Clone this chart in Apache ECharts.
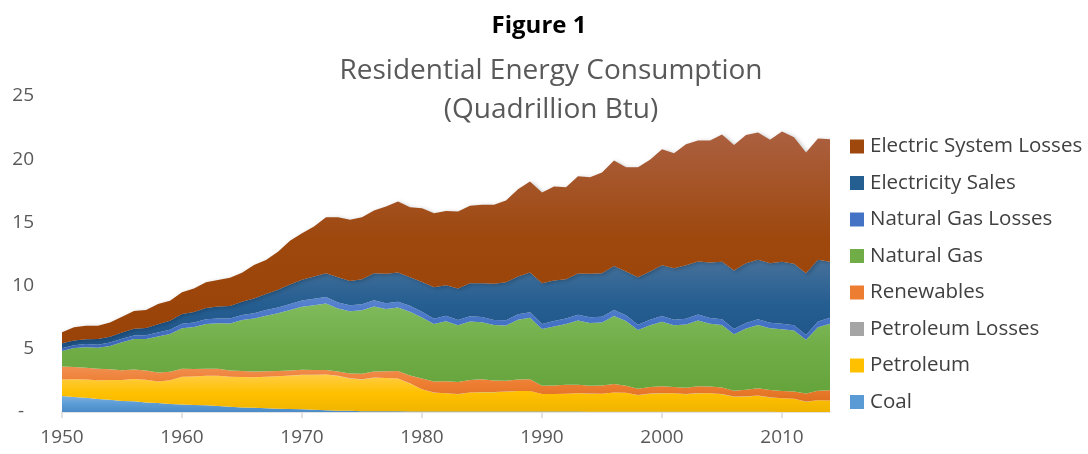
<!DOCTYPE html>
<html>
<head>
<meta charset="utf-8">
<title>Residential Energy Consumption</title>
<script src="https://cdn.jsdelivr.net/npm/echarts@6/dist/echarts.min.js"></script>
<style>
  html, body { margin: 0; padding: 0; background: #fff; }
  #chart { width: 1088px; height: 454px; }
</style>
</head>
<body>
<div id="chart"></div>
<script>
// years 1950..2014
const years = []
for (let y = 1950; y <= 2014; y++) years.push(String(y))

// quadrillion Btu
const coal = [1.26, 1.19, 1.12, 1.02, 0.96, 0.87, 0.85, 0.75, 0.72, 0.64,
  0.59, 0.56, 0.53, 0.47, 0.41, 0.35, 0.33, 0.29, 0.26, 0.24,
  0.21, 0.17, 0.14, 0.10, 0.09, 0.06, 0.06, 0.06, 0.05, 0.04,
  0.03, 0.03, 0.03, 0.03, 0.04, 0.04, 0.04, 0.04, 0.04, 0.03,
  0.03, 0.03, 0.03, 0.03, 0.02, 0.02, 0.02, 0.02, 0.01, 0.01,
  0.01, 0.01, 0.01, 0.01, 0.01, 0.01, 0.01, 0.01, 0.01, 0.01,
  0, 0, 0, 0, 0]
const petroleum = [1.32, 1.40, 1.45, 1.50, 1.57, 1.66, 1.76, 1.80, 1.70, 1.88,
  2.20, 2.25, 2.33, 2.40, 2.37, 2.42, 2.42, 2.50, 2.56, 2.64,
  2.72, 2.76, 2.82, 2.75, 2.57, 2.52, 2.65, 2.62, 2.60, 2.22,
  1.76, 1.50, 1.45, 1.38, 1.50, 1.53, 1.53, 1.57, 1.62, 1.63,
  1.39, 1.39, 1.41, 1.45, 1.43, 1.42, 1.52, 1.50, 1.32, 1.44,
  1.48, 1.47, 1.40, 1.48, 1.47, 1.40, 1.20, 1.22, 1.28, 1.14,
  1.08, 1.04, 0.82, 0.92, 0.90]
const petroleumLosses = [0, 0, 0, 0, 0, 0, 0, 0, 0, 0,
  0, 0, 0, 0, 0, 0, 0, 0, 0, 0,
  0.01, 0.01, 0.01, 0.01, 0.01, 0.01, 0.01, 0.01, 0.01, 0.01,
  0.01, 0.01, 0.01, 0.01, 0.01, 0.01, 0.01, 0.01, 0.01, 0.01,
  0.01, 0.01, 0.01, 0.01, 0.01, 0.01, 0.01, 0.01, 0.01, 0.01,
  0.01, 0.01, 0.01, 0.01, 0.01, 0.01, 0.01, 0.01, 0.01, 0.01,
  0.01, 0.01, 0.01, 0.01, 0.01]
const renewables = [1.01, 0.98, 0.94, 0.90, 0.85, 0.78, 0.76, 0.73, 0.70, 0.66,
  0.63, 0.60, 0.57, 0.55, 0.51, 0.47, 0.45, 0.43, 0.42, 0.41,
  0.40, 0.38, 0.36, 0.35, 0.37, 0.43, 0.48, 0.54, 0.58, 0.62,
  0.85, 0.87, 0.94, 0.96, 0.98, 1.01, 0.92, 0.85, 0.91, 0.93,
  0.64, 0.67, 0.71, 0.66, 0.61, 0.65, 0.66, 0.55, 0.50, 0.52,
  0.54, 0.48, 0.50, 0.53, 0.52, 0.52, 0.46, 0.52, 0.58, 0.59,
  0.58, 0.58, 0.64, 0.76, 0.82]
const naturalGas = [1.24, 1.49, 1.62, 1.66, 1.85, 2.20, 2.40, 2.50, 2.85, 3.00,
  3.21, 3.32, 3.53, 3.60, 3.71, 4.03, 4.20, 4.40, 4.57, 4.78,
  4.99, 5.13, 5.26, 4.98, 4.93, 5.02, 5.15, 4.91, 5.02, 5.05,
  4.83, 4.55, 4.75, 4.48, 4.62, 4.51, 4.38, 4.38, 4.72, 4.85,
  4.49, 4.67, 4.80, 5.09, 4.98, 4.98, 5.38, 5.11, 4.65, 4.88,
  5.10, 4.89, 5.00, 5.21, 4.98, 4.95, 4.48, 4.84, 5.01, 4.88,
  4.88, 4.81, 4.24, 5.02, 5.25]
const naturalGasLosses = [0.22, 0.23, 0.24, 0.24, 0.26, 0.28, 0.29, 0.30, 0.32, 0.33,
  0.35, 0.36, 0.38, 0.38, 0.39, 0.41, 0.42, 0.44, 0.45, 0.47,
  0.49, 0.50, 0.51, 0.48, 0.47, 0.48, 0.49, 0.46, 0.47, 0.47,
  0.45, 0.42, 0.44, 0.41, 0.42, 0.41, 0.40, 0.40, 0.43, 0.44,
  0.41, 0.42, 0.43, 0.46, 0.45, 0.45, 0.48, 0.46, 0.42, 0.44,
  0.46, 0.44, 0.45, 0.47, 0.45, 0.45, 0.41, 0.44, 0.45, 0.44,
  0.44, 0.43, 0.39, 0.45, 0.47]
const electricitySales = [0.38, 0.36, 0.38, 0.46, 0.47, 0.50, 0.52, 0.57, 0.65, 0.70,
  0.77, 0.82, 0.88, 0.94, 1.00, 1.05, 1.15, 1.28, 1.42, 1.55,
  1.65, 1.77, 1.88, 1.99, 1.93, 1.99, 2.14, 2.33, 2.30, 2.25,
  2.35, 2.49, 2.40, 2.50, 2.62, 2.68, 2.86, 3.02, 2.99, 3.14,
  3.22, 3.21, 3.12, 3.25, 3.43, 3.45, 3.49, 3.46, 3.75, 3.81,
  4.01, 4.08, 4.24, 4.19, 4.38, 4.54, 4.62, 4.73, 4.70, 4.70,
  4.89, 4.85, 4.88, 4.88, 4.43]
const electricLosses = [0.87, 1.05, 1.08, 1.05, 1.13, 1.25, 1.41, 1.42, 1.60, 1.60,
  1.72, 1.87, 2.04, 2.10, 2.24, 2.29, 2.66, 2.69, 3.00, 3.46,
  3.67, 3.95, 4.43, 4.75, 4.83, 4.90, 4.96, 5.32, 5.62, 5.54,
  5.84, 5.86, 5.89, 6.09, 6.12, 6.20, 6.25, 6.46, 6.91, 7.20,
  7.17, 7.44, 7.28, 7.71, 7.65, 7.96, 8.33, 8.26, 8.71, 8.84,
  9.18, 9.09, 9.58, 9.58, 9.66, 10.07, 9.94, 10.15, 10.07, 9.76,
  10.31, 10.02, 9.55, 9.60, 9.70]

const yTicks = [0, 5, 10, 15, 20, 25]

const fontFamily = '"Open Sans", "Noto Sans", sans-serif'

// light top -> base colour -> a bit darker at the bottom, like the Excel fill
const grad = (top, mid, bottom) => new echarts.graphic.LinearGradient(0, 0, 0, 1, [
  { offset: 0, color: top },
  { offset: 0.5, color: mid },
  { offset: 1, color: bottom }
])

const makeSeries = (name, data, base, top, bottom, extra) => Object.assign({
  name: name,
  type: 'line',
  stack: 'total',
  data: data,
  symbol: 'none',
  color: base,
  lineStyle: { width: 0 },
  areaStyle: { color: grad(top, base, bottom), opacity: 1 },
  emphasis: { disabled: true }
}, extra || {})

const chart = echarts.init(document.getElementById('chart'))

chart.setOption({
  animation: false,
  backgroundColor: '#ffffff',
  textStyle: { fontFamily: fontFamily },
  title: [
    {
      text: 'Figure 1',
      left: 534,
      top: 9,
      textAlign: 'center',
      textStyle: { fontFamily: fontFamily, fontSize: 24, fontWeight: 'bold', color: '#000000' }
    },
    {
      text: 'Residential Energy Consumption\n(Quadrillion Btu)',
      left: 546,
      top: 47,
      textAlign: 'center',
      textStyle: { fontFamily: fontFamily, fontSize: 28, fontWeight: 'normal', color: '#595959', lineHeight: 39 }
    }
  ],
  legend: {
    orient: 'vertical',
    left: 845,
    top: 131,
    itemWidth: 14,
    itemHeight: 14,
    itemGap: 15.5,
    icon: 'rect',
    textStyle: { fontFamily: fontFamily, fontSize: 20.5, color: '#404040', padding: [0, 0, 0, 1] },
    data: ['Electric System Losses', 'Electricity Sales', 'Natural Gas Losses', 'Natural Gas',
      'Renewables', 'Petroleum Losses', 'Petroleum', 'Coal']
  },
  grid: { left: 62, right: 258, top: 96, bottom: 42 },
  xAxis: {
    type: 'category',
    data: years,
    boundaryGap: false,
    axisLine: { lineStyle: { color: '#d9d9d9', width: 1.5 } },
    axisTick: {
      show: true,
      length: 6,
      interval: (i) => i % 10 === 0,
      lineStyle: { color: '#d9d9d9', width: 1.5 }
    },
    axisLabel: {
      interval: (i) => i % 10 === 0,
      fontFamily: fontFamily,
      fontSize: 19,
      color: '#595959',
      margin: 16
    },
    splitLine: { show: false }
  },
  yAxis: {
    type: 'value',
    min: yTicks[0],
    max: yTicks[yTicks.length - 1],
    interval: 5,
    axisLine: { show: false },
    axisTick: { show: false },
    splitLine: { show: false },
    axisLabel: {
      fontFamily: fontFamily,
      fontSize: 19,
      color: '#595959',
      margin: 28,
      formatter: (v) => (v === 0 ? '{z|-}' : String(v)),
      rich: { z: { fontFamily: fontFamily, fontSize: 19, color: '#595959', padding: [0, 10, 0, 0] } }
    }
  },
  series: [
    makeSeries('Coal', coal, '#5b9bd5', '#7bb0e0', '#4a8bc8'),
    makeSeries('Petroleum', petroleum, '#ffc000', '#ffcd45', '#f0b400'),
    makeSeries('Petroleum Losses', petroleumLosses, '#a5a5a5', '#b8b8b8', '#999999'),
    makeSeries('Renewables', renewables, '#ed7d31', '#f18f50', '#e07020'),
    makeSeries('Natural Gas', naturalGas, '#70ad47', '#80ba5c', '#65a33b'),
    makeSeries('Natural Gas Losses', naturalGasLosses, '#4472c4', '#5a85d0', '#3c66b5'),
    makeSeries('Electricity Sales', electricitySales, '#255e91', '#46719a', '#1f5487'),
    makeSeries('Electric System Losses', electricLosses, '#9e480e', '#ab6040', '#9a4308', {
      areaStyle: {
        color: grad('#ab6040', '#9e480e', '#9a4308'),
        opacity: 1,
        shadowColor: 'rgba(0,0,0,0.25)',
        shadowBlur: 4,
        shadowOffsetX: 2,
        shadowOffsetY: 1
      }
    })
  ]
})
</script>
</body>
</html>
